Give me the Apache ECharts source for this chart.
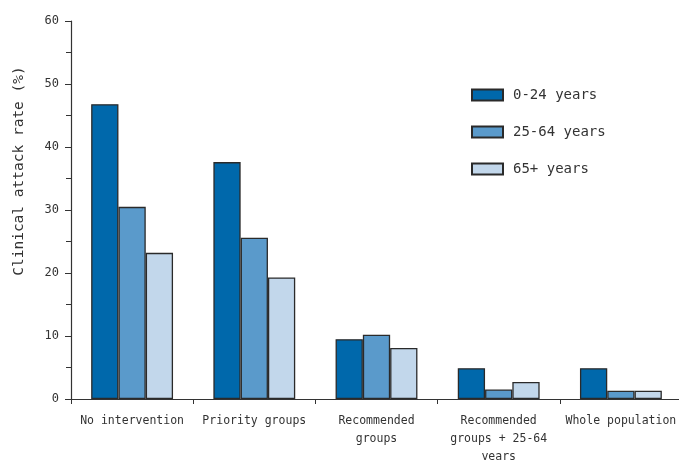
<!DOCTYPE html>
<html>
<head>
<meta charset="utf-8">
<script src="https://cdn.jsdelivr.net/npm/echarts@6/dist/echarts.min.js"></script>
<style>html,body{margin:0;padding:0;background:#fff}#c{width:679px;height:460px}</style>
</head>
<body>
<div id="c"></div>
<script>
const categories = ['No intervention', 'Priority groups', 'Recommended\ngroups', 'Recommended\ngroups + 25-64\nyears', 'Whole population'];
const seriesNames = ['0-24 years', '25-64 years', '65+ years'];
const age0to24 = [46.8, 37.6, 9.5, 4.9, 4.9];
const age25to64 = [30.5, 25.6, 10.2, 1.5, 1.3];
const age65plus = [23.2, 19.3, 8.1, 2.7, 1.3];
const yTicks = [0, 10, 20, 30, 40, 50, 60];
const yTitle = 'Clinical attack rate (%)';

const FONT = 'DejaVu Sans Mono';
const colors = ['#0068ab', '#5a9acb', '#c2d7eb'];
const values = [age0to24, age25to64, age65plus];

const chart = echarts.init(document.getElementById('c'), null, {renderer: 'canvas'});
chart.setOption({
  animation: false,
  textStyle: {fontFamily: FONT},
  grid: {left: 71, top: 21, width: 611, height: 378, outerBoundsMode: 'none', containLabel: false},
  legend: {
    orient: 'vertical', left: 466, top: 83, padding: 5,
    itemWidth: 31, itemHeight: 11, itemGap: 23,
    icon: 'rect',
    textStyle: {fontFamily: FONT, fontSize: 14, color: '#333', padding: [0, 0, 0, 5]},
    data: seriesNames
  },
  graphic: [{
    type: 'text', x: 19, y: 171, rotation: Math.PI / 2,
    style: {text: yTitle, fontFamily: FONT, fontSize: 14.5, fill: '#333', textAlign: 'center', textVerticalAlign: 'middle'}
  }],
  xAxis: {
    type: 'category', data: categories,
    axisLine: {lineStyle: {color: '#333', width: 1.2}},
    axisTick: {show: true, length: 5, lineStyle: {color: '#333'}},
    axisLabel: {fontFamily: FONT, fontSize: 11.5, color: '#333', lineHeight: 18, margin: 13, interval: 0}
  },
  yAxis: {
    type: 'value', min: yTicks[0], max: yTicks[yTicks.length - 1], interval: 10,
    axisLine: {show: true, lineStyle: {color: '#333', width: 1.2}},
    axisTick: {show: true, length: 6, lineStyle: {color: '#333'}},
    minorTick: {show: true, splitNumber: 2, length: 5, lineStyle: {color: '#333'}},
    splitLine: {show: false},
    axisLabel: {fontFamily: FONT, fontSize: 12, color: '#333', margin: 12}
  },
  series: seriesNames.map((n, i) => ({
    name: n, type: 'bar', data: values[i],
    barGap: '0%', barCategoryGap: '33%',
    itemStyle: {color: colors[i], borderColor: '#2a2a2a', borderWidth: 1.3}
  }))
});
</script>
</body>
</html>
